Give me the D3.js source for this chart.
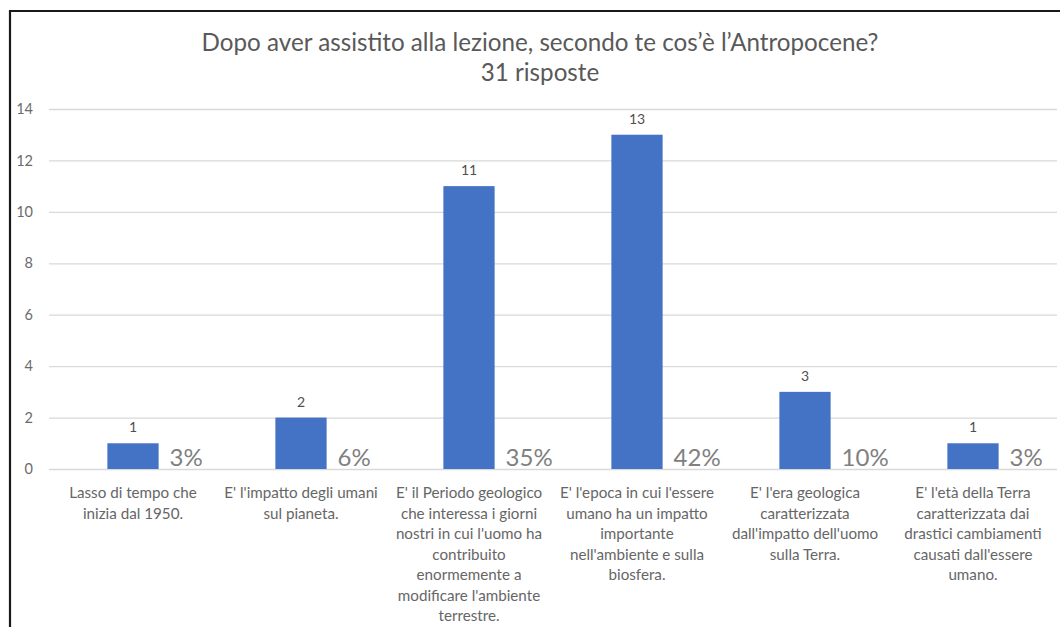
<!DOCTYPE html>
<html>
<head>
<meta charset="utf-8">
<script src="https://cdn.jsdelivr.net/npm/d3@7"></script>
<style>
  html, body { margin: 0; padding: 0; background: #fff; }
  svg { display: block; }
  text { font-family: Lato, "Open Sans", sans-serif; }
</style>
</head>
<body>
<svg id="chart" width="1060" height="627"></svg>
<script>
// Survey answers and their counts
const categories = [
  ["Lasso di tempo che", "inizia dal 1950."],
  ["E' l'impatto degli umani", "sul pianeta."],
  ["E' il Periodo geologico", "che interessa i giorni", "nostri in cui l'uomo ha", "contribuito", "enormemente a", "modificare l'ambiente", "terrestre."],
  ["E' l'epoca in cui l'essere", "umano ha un impatto", "importante", "nell'ambiente e sulla", "biosfera."],
  ["E' l'era geologica", "caratterizzata", "dall'impatto dell'uomo", "sulla Terra."],
  ["E' l'età della Terra", "caratterizzata dai", "drastici cambiamenti", "causati dall'essere", "umano."]
];
const counts = [1, 2, 11, 13, 3, 1];
const percents = ["3%", "6%", "35%", "42%", "10%", "3%"];
const yTicks = [0, 2, 4, 6, 8, 10, 12, 14];
const titleLines = ["Dopo aver assistito alla lezione, secondo te cos\u2019è l\u2019Antropocene?", "31 risposte"];

const svg = d3.select("#chart");

// frame on the top and left edges
svg.append("path")
  .attr("d", "M10,627 V11 H1060")
  .attr("fill", "none")
  .attr("stroke", "#1a1a1a")
  .attr("stroke-width", 2.2);

const plot = { left: 49, right: 1057, top: 109, bottom: 469 };

const x = d3.scaleBand()
  .domain(d3.range(categories.length))
  .range([plot.left, plot.right])
  .paddingInner(0.695)
  .paddingOuter(0.3475);

const y = d3.scaleLinear()
  .domain([0, 14])
  .range([plot.bottom, plot.top]);

// title
svg.append("g")
  .selectAll("text")
  .data(titleLines)
  .join("text")
  .attr("x", 540)
  .attr("y", (d, i) => 51 + i * 30)
  .attr("text-anchor", "middle")
  .attr("fill", "#595959")
  .attr("font-size", 24.2)
  .attr("font-weight", 400)
  .text(d => d);

// horizontal gridlines and y labels
const yAxis = d3.axisLeft(y)
  .tickValues(yTicks)
  .tickSize(-(plot.right - plot.left))
  .tickPadding(16)
  .tickFormat(d3.format("d"));

const gy = svg.append("g")
  .attr("transform", `translate(${plot.left},0)`)
  .call(yAxis);
gy.select(".domain").remove();
gy.selectAll(".tick line")
  .attr("stroke", "#d9d9d9")
  .attr("stroke-width", 1.3);
gy.selectAll(".tick text")
  .attr("fill", "#6b6b6b")
  .attr("font-size", 14.5)
  .attr("font-family", "Lato, sans-serif");

// bars
svg.append("g")
  .selectAll("rect")
  .data(counts)
  .join("rect")
  .attr("x", (d, i) => x(i))
  .attr("y", d => y(d))
  .attr("width", x.bandwidth())
  .attr("height", d => y(0) - y(d))
  .attr("fill", "#4472c4");

// value labels above bars
svg.append("g")
  .selectAll("text")
  .data(counts)
  .join("text")
  .attr("x", (d, i) => x(i) + x.bandwidth() / 2)
  .attr("y", d => y(d) - 11)
  .attr("text-anchor", "middle")
  .attr("fill", "#505050")
  .attr("font-size", 14)
  .text(d => d);

// share labels beside bar bases
svg.append("g")
  .selectAll("text")
  .data(percents)
  .join("text")
  .attr("x", (d, i) => x(i) + x.bandwidth() + 11)
  .attr("y", y(0) - 3)
  .attr("fill", "#808080")
  .attr("font-size", 24)
  .text(d => d);

// category labels
const cat = svg.append("g")
  .selectAll("text")
  .data(categories)
  .join("text")
  .attr("x", (d, i) => x(i) + x.bandwidth() / 2)
  .attr("y", 498)
  .attr("text-anchor", "middle")
  .attr("fill", "#666666")
  .attr("font-size", 15.2);
cat.selectAll("tspan")
  .data(d => d)
  .join("tspan")
  .attr("x", function() { return this.parentNode.getAttribute("x"); })
  .attr("dy", (d, i) => i === 0 ? 0 : 20.5)
  .text(d => d);
</script>
</body>
</html>
